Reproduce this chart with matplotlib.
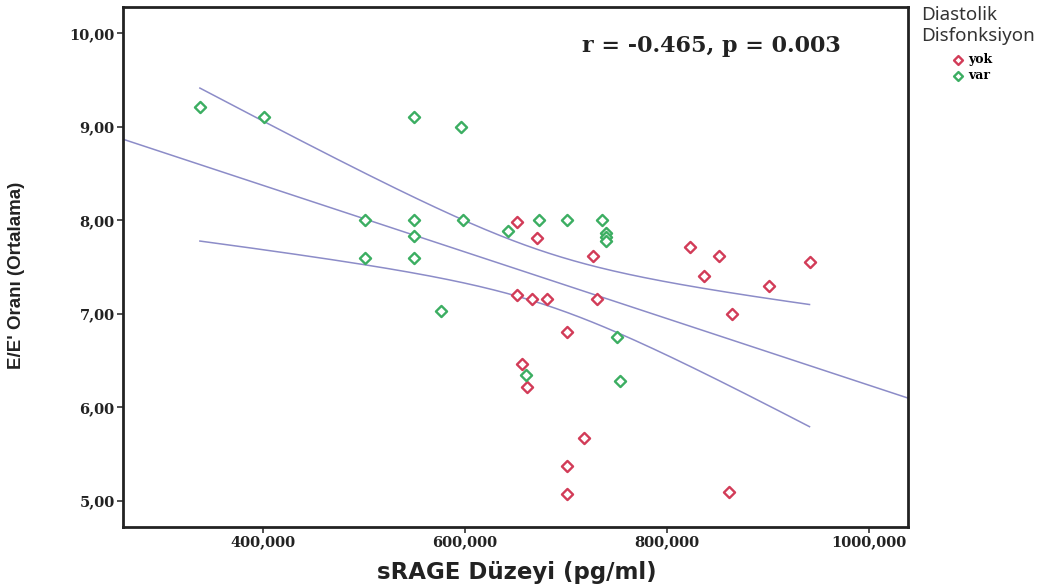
import numpy as np
import matplotlib
matplotlib.use('Agg')
import matplotlib.pyplot as plt
from matplotlib.ticker import FuncFormatter

# sRAGE (pg/ml) and E/E' values
var_x = [337.6, 401, 550, 596, 501, 550, 550, 598, 501, 550, 576,
         643, 673, 701, 736, 740, 740, 740, 750, 660, 753]
var_y = [9.21, 9.10, 9.10, 9.00, 8.00, 8.00, 7.83, 8.00, 7.60, 7.60, 7.03,
         7.89, 8.00, 8.00, 8.00, 7.86, 7.82, 7.78, 6.75, 6.35, 6.28]
yok_x = [651, 671, 727, 651, 666, 681, 731, 701, 656, 661,
         823, 851, 837, 941, 901, 864, 718, 701, 701, 861]
yok_y = [7.98, 7.81, 7.62, 7.20, 7.16, 7.16, 7.16, 6.80, 6.46, 6.22,
         7.71, 7.62, 7.40, 7.55, 7.30, 7.00, 5.67, 5.37, 5.07, 5.09]

x_ticks = [400, 600, 800, 1000]
y_ticks = [5, 6, 7, 8, 9, 10]
t_crit = 2.023  # t(0.975, df=39)

RED = '#d23c58'
GREEN = '#3cae62'
LINE = '#8c8cc8'

x_all = np.array(var_x + yok_x)
y_all = np.array(var_y + yok_y)
n = len(x_all)
slope, intercept = np.polyfit(x_all, y_all, 1)
resid = y_all - (slope * x_all + intercept)
s = np.sqrt(np.sum(resid ** 2) / (n - 2))
xbar = x_all.mean()
sxx = np.sum((x_all - xbar) ** 2)

fig = plt.figure(figsize=(10.54, 5.87), dpi=100)
ax = fig.add_axes([0.1167, 0.1022, 0.7448, 0.8858])
ax.set_xlim(261.5, 1038.5)
ax.set_ylim(4.72, 10.28)

# fit line across the whole axis
xf = np.linspace(261.5, 1038.5, 200)
ax.plot(xf, slope * xf + intercept, color=LINE, lw=1.1, zorder=1)

# mean confidence band over the data range
xc = np.linspace(x_all.min(), x_all.max(), 200)
half = t_crit * s * np.sqrt(1 / n + (xc - xbar) ** 2 / sxx)
yc = slope * xc + intercept
ax.plot(xc, yc + half, color=LINE, lw=1.1, zorder=1)
ax.plot(xc, yc - half, color=LINE, lw=1.1, zorder=1)

ax.scatter(yok_x, yok_y, marker='D', s=32, facecolor='white',
           edgecolor=RED, linewidth=1.7, zorder=3, label='yok')
ax.scatter(var_x, var_y, marker='D', s=32, facecolor='white',
           edgecolor=GREEN, linewidth=1.7, zorder=3, label='var')

ax.set_xticks(x_ticks)
ax.set_yticks(y_ticks)
ax.xaxis.set_major_formatter(FuncFormatter(lambda v, p: f'{v:.3f}'.replace('.', ',')))
ax.yaxis.set_major_formatter(FuncFormatter(lambda v, p: f'{v:.2f}'.replace('.', ',')))
for lab in ax.get_xticklabels() + ax.get_yticklabels():
    lab.set_fontfamily('DejaVu Serif')
    lab.set_fontweight('bold')
    lab.set_fontsize(10.5)
    lab.set_color('#222222')
ax.tick_params(direction='out', length=4, width=1.2, color='#333333', pad=2)
for sp in ax.spines.values():
    sp.set_linewidth(2)
    sp.set_color('#222222')

ax.set_xlabel('sRAGE Düzeyi (pg/ml)', fontsize=16.5, fontweight='bold',
              family='DejaVu Sans', color='#222222')
ax.xaxis.set_label_coords(0.502, -0.066)
ax.set_ylabel("E/E' Oranı (Ortalama)", fontsize=13.5, fontweight='bold',
              family='Liberation Sans', color='#222222')
ax.yaxis.set_label_coords(-0.125, 0.483)

ax.text(0.585, 0.913, 'r = -0.465, p = 0.003', transform=ax.transAxes,
        fontsize=16, fontweight='bold', family='DejaVu Serif', color='#222222')

fig.text(0.874, 0.99, 'Diastolik\nDisfonksiyon', fontsize=13.5, family='Noto Sans',
         color='#333333', va='top', ha='left', linespacing=1.2)
leg = fig.legend(loc='upper left', bbox_to_anchor=(0.897, 0.92), frameon=False,
                 handletextpad=0.3, labelspacing=0.25, borderpad=0,
                 handlelength=1.0, markerscale=0.8,
                 prop={'family': 'DejaVu Serif', 'weight': 'bold', 'size': 9})

fig.savefig('out.png', dpi=100)
